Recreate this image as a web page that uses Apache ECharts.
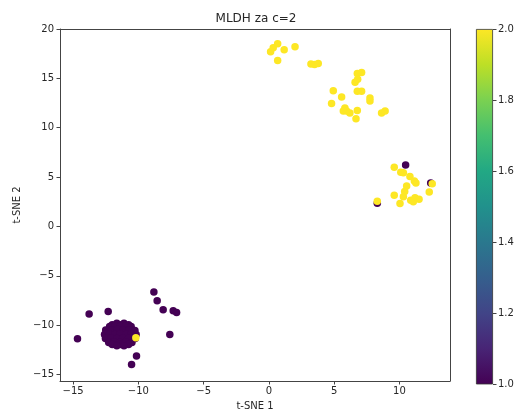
<!DOCTYPE html>
<html>
<head>
<meta charset="utf-8">
<script src="https://cdn.jsdelivr.net/npm/echarts@6/dist/echarts.min.js"></script>
<style>html,body{margin:0;padding:0;background:#fff;}#chart{width:518px;height:416px;}</style>
</head>
<body>
<div id="chart"></div>
<script>
// Points with c = 1 (purple)
const class1Points = [
  [-11.65,-9.8],[-11.1,-9.8],
  [-12.0,-9.95],[-11.4,-9.95],[-10.75,-9.95],
  [-12.2,-10.15],[-11.8,-10.1],[-11.4,-10.15],[-10.95,-10.1],[-10.55,-10.15],
  [-12.5,-10.5],[-12.05,-10.5],[-11.6,-10.45],[-11.15,-10.5],[-10.7,-10.5],[-10.26,-10.55],
  [-12.59,-10.95],[-12.2,-10.9],[-11.8,-10.95],[-11.4,-10.9],[-10.95,-10.95],[-10.55,-10.9],[-10.17,-10.95],
  [-12.52,-11.35],[-12.1,-11.3],[-11.65,-11.35],[-11.2,-11.3],[-10.75,-11.35],[-10.24,-11.35],
  [-12.27,-11.75],[-11.85,-11.7],[-11.4,-11.75],[-10.95,-11.7],[-10.49,-11.75],
  [-12.0,-11.95],[-11.4,-11.95],[-10.75,-11.95],
  [-11.65,-12.1],[-11.1,-12.1],
  [-8.81,-6.64],[-8.56,-7.54],[-8.1,-8.45],[-7.33,-8.55],[-7.07,-8.72],
  [-13.77,-8.88],[-12.31,-8.62],[-14.66,-11.39],[-7.59,-10.95],
  [-10.14,-13.13],[-10.52,-14.0],
  [10.47,6.23],[12.39,4.4],[8.3,2.35]
];
// Points with c = 2 (yellow)
const class2Points = [
  [0.13,17.7],[0.33,18.1],[0.67,18.5],[1.17,17.9],[2.0,18.2],[0.67,16.8],
  [3.22,16.45],[3.5,16.4],[3.78,16.5],
  [6.77,15.5],[7.1,15.6],[6.6,14.6],[6.8,14.9],[6.77,13.7],[7.1,13.7],
  [4.93,13.75],[5.57,13.1],[4.8,12.45],[7.74,13.0],[7.74,12.7],
  [5.82,12.0],[5.95,11.7],[5.7,11.7],[6.2,11.5],[6.77,11.75],[6.67,10.9],
  [8.63,11.5],[8.9,11.7],
  [9.6,6.0],[10.1,5.5],[10.3,5.43],[10.8,5.05],[11.14,4.6],[11.26,4.4],
  [12.51,4.32],[12.28,3.49],[10.55,4.1],[10.4,3.55],[9.6,3.15],[10.3,3.0],
  [10.04,2.32],[10.86,2.65],[11.19,2.9],[11.5,2.75],[11.06,2.49],[8.3,2.55],
  [-10.19,-11.29]
];
const xTicks = [-15,-10,-5,0,5,10];
const yTicks = [-15,-10,-5,0,5,10,15,20];
const cbarTicks = [1.0,1.2,1.4,1.6,1.8,2.0];
const viridis = ['#440154','#482475','#414487','#355f8d','#2a788e','#21918c','#22a884','#44bf70','#7ad151','#bddf26','#fde725'];

const data = class1Points.map(p => [p[0], p[1], 1]).concat(class2Points.map(p => [p[0], p[1], 2]));
const font = 'DejaVu Sans';
const txt = '#262626';
const axisCol = '#444';
const minus = v => String(v).replace('-', '\u2212');

const chart = echarts.init(document.getElementById('chart'), null, {renderer: 'canvas'});
chart.setOption({
  backgroundColor: '#fff',
  animation: false,
  title: {
    text: 'MLDH za c=2', left: 251, top: 8, textAlign: 'center',
    textStyle: {fontFamily: font, fontSize: 12, fontWeight: 'normal', color: txt}
  },
  grid: [
    {left: 60, top: 29, width: 390, height: 355},
    {left: 476, top: 29, width: 17, height: 355}
  ],
  xAxis: [
    {
      type: 'value', gridIndex: 0, min: -16.0, max: 13.87,
      name: 't-SNE 1', nameLocation: 'middle', nameGap: 20,
      nameTextStyle: {fontFamily: font, fontSize: 10, color: txt},
      splitLine: {show: false},
      axisLine: {show: true, onZero: false, lineStyle: {color: axisCol, width: 1}},
      axisTick: {show: true, length: 3.5, customValues: xTicks, lineStyle: {color: axisCol}},
      axisLabel: {customValues: xTicks, margin: 5, fontFamily: font, fontSize: 10, color: txt, formatter: minus}
    },
    {
      type: 'value', gridIndex: 0, position: 'top', min: -16.0, max: 13.87,
      axisLine: {show: true, onZero: false, lineStyle: {color: axisCol, width: 1}},
      axisTick: {show: false}, axisLabel: {show: false}, splitLine: {show: false}
    },
    {
      type: 'category', gridIndex: 1, data: ['c'], show: false
    }
  ],
  yAxis: [
    {
      type: 'value', gridIndex: 0, min: -15.66, max: 20,
      name: 't-SNE 2', nameLocation: 'middle', nameGap: 36,
      nameTextStyle: {fontFamily: font, fontSize: 10, color: txt},
      splitLine: {show: false},
      axisLine: {show: true, onZero: false, lineStyle: {color: axisCol, width: 1}},
      axisTick: {show: true, length: 3.5, customValues: yTicks, lineStyle: {color: axisCol}},
      axisLabel: {customValues: yTicks, margin: 6, fontFamily: font, fontSize: 10, color: txt, formatter: minus}
    },
    {
      type: 'value', gridIndex: 0, position: 'right', min: -15.66, max: 20,
      axisLine: {show: true, onZero: false, lineStyle: {color: axisCol, width: 1}},
      axisTick: {show: false}, axisLabel: {show: false}, splitLine: {show: false}
    },
    {
      type: 'value', gridIndex: 1, position: 'right', min: 1, max: 2, interval: 0.2,
      splitLine: {show: false},
      axisLine: {show: false},
      axisTick: {show: true, length: 3.5, lineStyle: {color: axisCol}},
      axisLabel: {margin: 5, fontFamily: font, fontSize: 10, color: txt, formatter: v => v.toFixed(1)}
    }
  ],
  visualMap: {
    show: false, type: 'continuous', seriesIndex: 0, dimension: 2, min: 1, max: 2,
    inRange: {color: viridis}
  },
  series: [
    {
      type: 'scatter', xAxisIndex: 0, yAxisIndex: 0, data: data,
      symbolSize: 7.5, itemStyle: {opacity: 1}
    },
    {
      type: 'bar', xAxisIndex: 2, yAxisIndex: 2, data: [cbarTicks[cbarTicks.length - 1]],
      barWidth: '100%', silent: true,
      itemStyle: {
        borderColor: '#333', borderWidth: 0.8,
        color: {
          type: 'linear', x: 0, y: 1, x2: 0, y2: 0,
          colorStops: viridis.map((c, i) => ({offset: i / (viridis.length - 1), color: c}))
        }
      }
    }
  ]
});
</script>
</body>
</html>
